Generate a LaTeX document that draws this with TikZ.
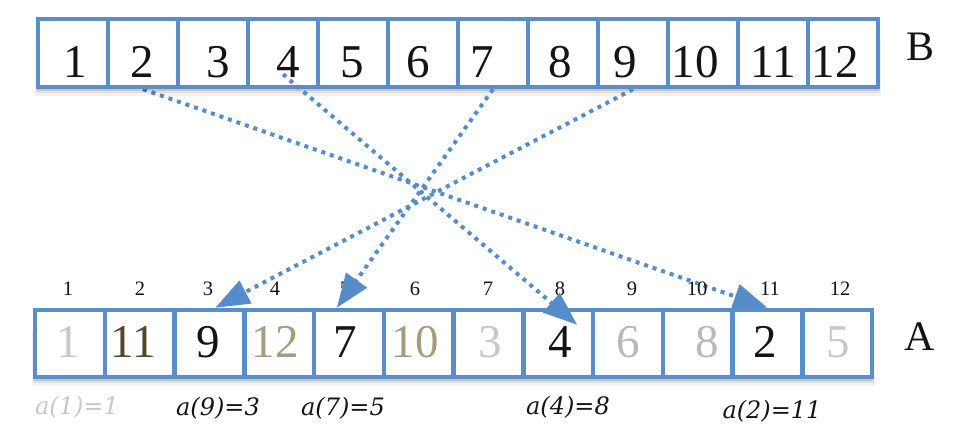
\documentclass[tikz,border=0pt]{standalone}
\usepackage{fontspec}
\setmainfont{Liberation Serif}
\newfontfamily\lblfont{DejaVu Serif}
\usetikzlibrary{arrows.meta,calc,backgrounds}
\definecolor{boxblue}{RGB}{91,142,201}
\definecolor{linkblue}{RGB}{86,140,202}
\definecolor{faint}{RGB}{200,200,200}
\definecolor{softgray}{RGB}{185,185,185}
\definecolor{olivedark}{RGB}{80,72,40}
\definecolor{olivelight}{RGB}{165,156,126}
\definecolor{ink}{RGB}{20,20,20}
\begin{document}
\begin{tikzpicture}[x=1pt,y=-1pt,
  cellB/.style={rectangle, draw=boxblue, line width=4.5pt, fill=white,
    minimum width=70pt, minimum height=68pt, inner sep=0pt},
  cellA/.style={rectangle, draw=boxblue, line width=4.5pt, fill=white,
    minimum width=69.75pt, minimum height=67pt, inner sep=0pt},
  bigdigit/.style={font=\fontsize{47}{50}\selectfont, text=ink, inner sep=0pt, anchor=base},
  idxdigit/.style={font=\fontsize{20.5}{24}\selectfont, text=ink, inner sep=0pt, anchor=base},
  rowname/.style={font=\fontsize{42}{46}\selectfont, text=ink, inner sep=0pt, anchor=base},
  eqlabel/.style={font=\lblfont\itshape\fontsize{24}{28}\selectfont, text=ink, inner sep=0pt, anchor=base},
  link/.style={draw=linkblue, line width=4pt, dash pattern=on 4pt off 5pt,
    -{Triangle[length=34pt,width=25pt]}},
  rowshadow/.style={fill=black, opacity=#1, draw=none}
]
\useasboundingbox (0,0) rectangle (980,440);

% soft shadows under both rows
\foreach \d/\o in {2/0.14,4/0.11,6/0.08,9/0.05}{
  \fill[rowshadow=\o] ({38-\d/3},40) rectangle ({878+\d/3},{87+\d});
  \fill[rowshadow=\o] ({35-\d/3},330) rectangle ({872+\d/3},{377+\d});
}

% array B
\foreach \i in {1,...,12}
  \node[cellB] (b\i) at ({73+70*(\i-1)},53) {};
\foreach \v [count=\i] in {75,142,218,288,352,418,482,560,625,695,773,835}
  \node[bigdigit] (tb\i) at (\v,77) {\i};
\node[rowname] (nameB) at (920,60) {B};

% array A
\foreach \i in {1,...,12}
  \node[cellA] (a\i) at ({35+69.75*(\i-0.5)},343.5) {};
\foreach \v/\n/\c [count=\i] in {68/1/faint,133/11/olivedark,208/9/ink,275/12/olivelight,
    345/7/ink,415/10/olivelight,490/3/faint,560/4/ink,628/6/softgray,707/8/softgray,
    765/2/ink,838/5/faint}
  \node[bigdigit, text=\c] (ta\i) at (\v,357) {\n};
\node[rowname] (nameA) at (920,350) {A};

% positions of A
\foreach \v [count=\i] in {68,140,208,275,345,415,488,560,632,697,770,840}
  \node[idxdigit] (ix\i) at (\v,295) {\i};

% mapping labels
\node[eqlabel, text=faint] (eq1) at (77,414) {a(1)=1};
\node[eqlabel] (eq9) at (218,415) {a(9)=3};
\node[eqlabel] (eq7) at (343,415) {a(7)=5};
\node[eqlabel] (eq4) at (568,414) {a(4)=8};
\node[eqlabel] (eq2) at (772,418) {a(2)=11};

% links from B to A; the one into A(11) sits behind the row border
\begin{scope}[on background layer]
  \draw[link] (b2.south) -- (a11.north);
\end{scope}
\draw[link] ($(b4.south)+(0,-15)$) -- ($(a8.north)+(19,17)$);
\draw[link] (b7.south) -- ($(a5.north)+(-12,0)$);
\draw[link] (b9.south) -- ($(a3.north)+(6,0)$);
\end{tikzpicture}
\end{document}
